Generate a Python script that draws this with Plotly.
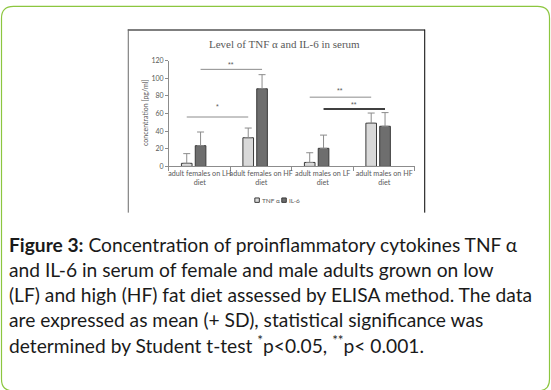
import plotly.graph_objects as go

# ---------------- data ----------------
categories = ["adult females on LH<br>diet", "adult females on HF<br>diet",
              "adult males on LF<br>diet", "adult males on HF<br>diet"]
tnf_mean = [3.5, 32.5, 4.5, 49]
tnf_sd = [11, 11, 11, 11.5]
il6_mean = [23.5, 88, 20.5, 45.5]
il6_sd = [15.5, 16, 15, 15.5]
y_ticks = [0, 20, 40, 60, 80, 100, 120]
series_names = ["TNF α", "IL-6"]

# significance brackets
sig_series = ["tnf", "il6", "tnf", "il6"]
sig_from = [0, 0, 2, 2]
sig_to = [1, 1, 3, 3]
sig_level = [56, 110, 78.5, 65]
sig_label_level = [70, 118, 89, 72.5]
sig_label = ["*", "**", "**", "**"]

caption_lines = [
    "<b>Figure 3:</b> Concentration of proinflammatory cytokines TNF α",
    "and IL-6 in serum of female and male adults grown on low",
    "(LF) and high (HF) fat diet assessed by ELISA method. The data",
    "are expressed as mean (+ SD), statistical significance was",
    "determined by Student t-test <sup>*</sup>p<0.05, <sup>**</sup>p< 0.001.",
]

# ---------------- layout helpers ----------------
W, H = 551, 390
def px(x):
    return x / W
def py(y):
    return 1 - y / H

X0, X1 = 168.3, 414.7
Y0, Y120 = 164.8, 56.7

BAR_W = 0.173
OFF_TNF = -0.298
OFF_IL6 = -0.073
GRAY = "#595959"
TNF_COLOR = "#d9d9d9"
IL6_COLOR = "#6e6e6e"
EDGE = "#3a3a3a"

fig = go.Figure()
fig.add_trace(go.Bar(
    x=categories, y=tnf_mean, name=series_names[0],
    width=BAR_W, offset=OFF_TNF, showlegend=False,
    marker=dict(color=TNF_COLOR, line=dict(color=EDGE, width=1)),
    error_y=dict(type="data", array=tnf_sd, arrayminus=[0] * len(tnf_sd), symmetric=False,
                 color="#8c8c8c", thickness=1, width=3.5),
))
fig.add_trace(go.Bar(
    x=categories, y=il6_mean, name=series_names[1],
    width=BAR_W, offset=OFF_IL6, showlegend=False,
    marker=dict(color=IL6_COLOR, line=dict(color=EDGE, width=1)),
    error_y=dict(type="data", array=il6_sd, arrayminus=[0] * len(il6_sd), symmetric=False,
                 color="#8c8c8c", thickness=1, width=3.5),
))

shapes = []
annotations = []

# significance brackets
for i, (s, a, b, lev, llev, lab) in enumerate(zip(sig_series, sig_from, sig_to, sig_level,
                                                  sig_label_level, sig_label)):
    off = OFF_TNF if s == "tnf" else OFF_IL6
    xa = a + off + BAR_W / 2
    xb = b + off + BAR_W / 2
    last = i == len(sig_label) - 1
    shapes.append(dict(type="line", xref="x", yref="y", x0=xa, x1=xb, y0=lev, y1=lev,
                       line=dict(color="#000000" if last else "#8c8c8c", width=1.5 if last else 1)))
    annotations.append(dict(xref="x", yref="y", x=(xa + xb) / 2, y=llev - 2.5, text=lab,
                            showarrow=False, font=dict(size=7, color=GRAY, family="Liberation Sans")))

# legend (small Excel-style)
leg_items = [(254.3, TNF_COLOR, series_names[0]), (281.3, IL6_COLOR, series_names[1])]
for lx, col, name in leg_items:
    shapes.append(dict(type="rect", xref="paper", yref="paper", x0=px(lx), x1=px(lx + 4.5),
                       y0=py(201.5), y1=py(197), fillcolor=col, line=dict(color=EDGE, width=1)))
    annotations.append(dict(xref="paper", yref="paper", x=px(lx + 5), y=py(199.3), text=name,
                            showarrow=False, xanchor="left", yanchor="middle",
                            font=dict(family="Lato", size=6.5, color=GRAY)))

# chart picture frame
shapes.append(dict(type="line", xref="paper", yref="paper", x0=px(127), x1=px(424.5),
                   y0=py(25.5), y1=py(25.5), line=dict(color="#7f7f7f", width=2)))
shapes.append(dict(type="line", xref="paper", yref="paper", x0=px(127.5), x1=px(127.5),
                   y0=py(25), y1=py(212), line=dict(color="#6a6a6a", width=1)))
shapes.append(dict(type="line", xref="paper", yref="paper", x0=px(424.5), x1=px(424.5),
                   y0=py(25), y1=py(212), line=dict(color="#000000", width=1)))

# green rounded border
r = 12
l, rt, t, b = 0.5, 549.5, 1.5, 394
path = (f"M {px(l + r)},{py(t)} L {px(rt - r)},{py(t)} "
        f"Q {px(rt)},{py(t)} {px(rt)},{py(t + r)} "
        f"L {px(rt)},{py(b - r)} Q {px(rt)},{py(b)} {px(rt - r)},{py(b)} "
        f"L {px(l + r)},{py(b)} Q {px(l)},{py(b)} {px(l)},{py(b - r)} "
        f"L {px(l)},{py(t + r)} Q {px(l)},{py(t)} {px(l + r)},{py(t)} Z")
shapes.append(dict(type="path", xref="paper", yref="paper", path=path,
                   line=dict(color="#8cc63f", width=1.2)))

# chart title
annotations.append(dict(xref="paper", yref="paper", x=px(284.5), y=py(40),
                        text="Level of TNF α and IL-6 in serum", showarrow=False,
                        xanchor="center", yanchor="middle",
                        font=dict(family="Liberation Serif", size=11, color=GRAY)))
# y-axis title
annotations.append(dict(xref="paper", yref="paper", x=px(144), y=py(110.5),
                        text="concentration [pg/ml]", showarrow=False, textangle=-90,
                        xanchor="center", yanchor="middle",
                        font=dict(family="Lato", size=7, color=GRAY)))

# caption
cap_y = [245, 270.5, 296, 321, 346.5]
for txt, yy in zip(caption_lines, cap_y):
    annotations.append(dict(xref="paper", yref="paper", x=px(6.5), y=py(yy), text=txt,
                            showarrow=False, xanchor="left", yanchor="middle",
                            font=dict(family="Lato", size=19.2, color="#1a1a1a")))

fig.update_layout(
    width=W, height=H,
    margin=dict(l=0, r=0, t=0, b=0, pad=0),
    paper_bgcolor="white", plot_bgcolor="white",
    showlegend=False,
    xaxis=dict(domain=[px(X0), px(X1)], type="category", range=[-0.5, 3.5],
               showline=True, linecolor="#8c8c8c", linewidth=1,
               ticks="outside", tickson="boundaries", ticklen=4, tickcolor="#8c8c8c",
               showgrid=False, tickangle=0, ticklabelstandoff=0,
               tickfont=dict(family="Lato", size=7.2, color=GRAY)),
    yaxis=dict(domain=[py(Y0), py(Y120)], range=[0, 120], tickvals=y_ticks,
               showline=True, linecolor="#8c8c8c", linewidth=1,
               ticks="outside", ticklen=3, tickcolor="#8c8c8c",
               showgrid=False, zeroline=False,
               tickfont=dict(family="Lato", size=7, color=GRAY)),
    shapes=shapes,
    annotations=annotations,
)

fig.write_html("out.html", config={"displayModeBar": False},
               post_script="document.body.style.margin='0';")
